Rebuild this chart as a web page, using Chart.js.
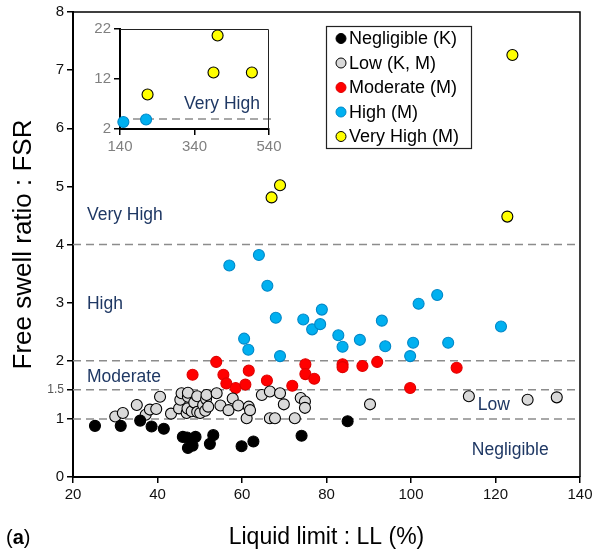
<!DOCTYPE html>
<html lang="en">
<head>
<meta charset="UTF-8">
<title>Free swell ratio vs Liquid limit</title>
<script src="https://cdn.jsdelivr.net/npm/chart.js"></script>
<style>
  body { margin: 0; background: white; }
  #wrap { position: relative; width: 600px; height: 554px; }
  #inset-chart { position: absolute; left: 60px; top: 10px; }
</style>
</head>
<body>
<div id="wrap">
  <canvas id="main-chart" width="600" height="554"></canvas>
  <canvas id="inset-chart" width="230" height="160"></canvas>
</div>
<script>
// main plot data (LL %, FSR)
const negligibleLL  = [25.2, 31.3, 35.9, 38.6, 41.5, 46.0, 47.0, 49.0, 47.2, 48.3, 52.4, 53.2, 59.9, 62.7, 74.1, 85.0];
const negligibleFSR = [0.88, 0.88, 0.97, 0.87, 0.83, 0.69, 0.68, 0.69, 0.50, 0.54, 0.57, 0.72, 0.53, 0.61, 0.71, 0.96];

const lowLL  = [30.0, 31.8, 35.1, 37.2, 38.2, 39.7, 40.6, 43.2, 45.1, 45.4, 45.7, 46.9, 47.1, 47.2, 47.2, 48.1,
                48.7, 49.4, 49.4, 50.1, 50.8, 51.3, 51.5, 51.6, 52.0, 54.0, 54.9, 56.8, 57.8, 59.1, 61.1, 61.6,
                61.9, 64.7, 66.6, 66.6, 67.8, 69.0, 69.9, 72.5, 73.9, 74.9, 74.9, 90.3, 113.7, 127.6, 134.5];
const lowFSR = [1.04, 1.10, 1.24, 1.07, 1.16, 1.17, 1.38, 1.09, 1.18, 1.33, 1.44, 1.10, 1.18, 1.38, 1.45, 1.13,
                1.28, 1.12, 1.39, 1.10, 1.24, 1.14, 1.34, 1.41, 1.21, 1.44, 1.23, 1.15, 1.35, 1.23, 1.01, 1.21,
                1.15, 1.41, 1.47, 1.01, 1.01, 1.44, 1.25, 1.01, 1.36, 1.30, 1.19, 1.25, 1.39, 1.33, 1.37];

const moderateLL  = [48.3, 53.9, 55.6, 56.3, 58.5, 60.8, 61.6, 65.9, 71.9, 75.0, 75.0, 77.1, 83.8, 83.8, 88.5, 92.0, 99.8, 110.8];
const moderateFSR = [1.76, 1.98, 1.76, 1.61, 1.53, 1.59, 1.83, 1.66, 1.57, 1.94, 1.77, 1.69, 1.94, 1.89, 1.91, 1.98, 1.53, 1.88];

const highLL  = [57.0, 64.0, 66.0, 68.0, 74.5, 78.9, 76.6, 78.5, 60.5, 61.5, 69.0, 82.8, 83.8, 87.9, 93.1, 93.9, 101.8, 106.2, 100.5, 99.8, 108.8, 121.3];
const highFSR = [3.64, 3.82, 3.29, 2.74, 2.71, 2.88, 2.54, 2.63, 2.38, 2.19, 2.08, 2.44, 2.24, 2.36, 2.69, 2.25, 2.98, 3.13, 2.31, 2.08, 2.31, 2.59];

const veryHighLL  = [124.0, 69.0, 67.0, 122.8];
const veryHighFSR = [7.26, 5.02, 4.81, 4.48];

// class boundaries and zone names
const boundaryFSR = [1, 1.5, 2, 4];
const yTickValues = [0, 1, 1.5, 2, 3, 4, 5, 6, 7, 8];
const zoneNames = ['Very High', 'High', 'Moderate', 'Low', 'Negligible'];
const zoneLL    = [23.3, 23.3, 23.3, 115.8, 114.4];
const zoneFSR   = [4.51, 2.98, 1.72, 1.24, 0.46];

// inset data (LL > 140)
const insetHighLL  = [149, 210];
const insetHighFSR = [3.4, 3.9];
const insetVeryHighLL  = [214, 391, 402, 494];
const insetVeryHighFSR = [8.9, 13.3, 20.7, 13.3];
const insetBoundaryFSR = 4;

const FONT = "'Liberation Sans', Arial, sans-serif";
const zoneColor = '#1F3864';

function pts(xs, ys) {
    return xs.map((x, i) => ({ x: x, y: ys[i] }));
}

const seriesStyle = [
    { label: 'Negligible (K)',  bg: '#000000', border: '#000000' },
    { label: 'Low (K, M)',      bg: '#D9D9D9', border: '#000000' },
    { label: 'Moderate (M)',    bg: '#FF0000', border: '#E00000' },
    { label: 'High (M)',        bg: '#00B0F0', border: '#0088C8' },
    { label: 'Very High (M)',   bg: '#FFFF00', border: '#000000' }
];
const seriesData = [
    pts(negligibleLL, negligibleFSR),
    pts(lowLL, lowFSR),
    pts(moderateLL, moderateFSR),
    pts(highLL, highFSR),
    pts(veryHighLL, veryHighFSR)
];

const pointSets = seriesStyle.map((s, i) => ({
    label: s.label,
    data: seriesData[i],
    backgroundColor: s.bg,
    borderColor: s.border,
    borderWidth: 1.1,
    pointRadius: 5.5,
    inLegend: true,
    order: 1
}));

const dashSets = boundaryFSR.map(v => ({
    label: 'b' + v,
    data: [{ x: 20, y: v }, { x: 140, y: v }],
    showLine: true,
    borderColor: '#8c8c8c',
    borderWidth: 1.5,
    borderDash: [8, 5],
    pointRadius: 0,
    order: 5
}));

const decorPlugin = {
    id: 'decor',
    afterDraw(chart) {
        const ctx = chart.ctx;
        const area = chart.chartArea;
        const xs = chart.scales.x, ys = chart.scales.y;
        ctx.save();
        // frame (top/right)
        ctx.strokeStyle = '#000';
        ctx.lineWidth = 1.5;
        ctx.beginPath();
        ctx.moveTo(area.left, area.top);
        ctx.lineTo(area.right, area.top);
        ctx.lineTo(area.right, area.bottom);
        ctx.stroke();

        // zone names
        ctx.fillStyle = zoneColor;
        ctx.font = '17.5px ' + FONT;
        ctx.textBaseline = 'middle';
        ctx.textAlign = 'left';
        zoneNames.forEach((n, i) => {
            ctx.fillText(n, xs.getPixelForValue(zoneLL[i]), ys.getPixelForValue(zoneFSR[i]));
        });

        // legend box
        const lx = 326, ly = 26, lw = 145, lh = 122, step = 24.5;
        ctx.fillStyle = '#fff';
        ctx.fillRect(lx, ly, lw, lh);
        ctx.strokeStyle = '#222';
        ctx.lineWidth = 1.2;
        ctx.strokeRect(lx + 0.5, ly + 0.5, lw, lh);
        ctx.font = '18px ' + FONT;
        chart.data.datasets.filter(d => d.inLegend).forEach((d, i) => {
            const cy = ly + 12.5 + i * step;
            ctx.beginPath();
            ctx.arc(lx + 15, cy, 5, 0, Math.PI * 2);
            ctx.fillStyle = d.backgroundColor;
            ctx.fill();
            ctx.strokeStyle = d.borderColor;
            ctx.lineWidth = 1;
            ctx.stroke();
            ctx.fillStyle = '#000';
            ctx.fillText(d.label, lx + 23, cy + 1);
        });

        // panel tag
        ctx.fillStyle = '#000';
        ctx.font = '20px ' + FONT;
        let px = 6;
        const py = 538;
        ctx.fillText('(', px, py);
        px += ctx.measureText('(').width;
        ctx.font = 'bold 20px ' + FONT;
        ctx.fillText('a', px, py);
        px += ctx.measureText('a').width;
        ctx.font = '20px ' + FONT;
        ctx.fillText(')', px, py);
        ctx.restore();
    }
};

new Chart(document.getElementById('main-chart'), {
    type: 'scatter',
    data: { datasets: pointSets.concat(dashSets) },
    options: {
        responsive: false,
        animation: false,
        layout: { padding: { left: 8, right: 20, top: 12, bottom: 0 } },
        plugins: { legend: { display: false }, tooltip: { enabled: false } },
        scales: {
            x: {
                type: 'linear',
                min: 20, max: 140,
                afterFit: s => { s.height = 77; },
                ticks: { stepSize: 20, color: '#111', font: { family: FONT, size: 15 } },
                grid: { drawOnChartArea: false, tickLength: 6, color: '#000', lineWidth: 1.5 },
                border: { color: '#000', width: 2 },
                title: {
                    display: true, text: 'Liquid limit : LL (%)', color: '#000',
                    font: { family: FONT, size: 23 }, padding: { top: 0, bottom: 3 }
                }
            },
            y: {
                type: 'linear',
                min: 0, max: 8,
                afterFit: s => { s.width = 65; },
                afterBuildTicks: s => { s.ticks = yTickValues.map(v => ({ value: v })); },
                ticks: {
                    autoSkip: false,
                    callback: v => String(v),
                    color: c => c.tick && c.tick.value === 1.5 ? '#555' : '#111',
                    font: c => ({ family: FONT, size: c.tick && c.tick.value === 1.5 ? 12 : 15 })
                },
                grid: { drawOnChartArea: false, tickLength: 6, color: '#000', lineWidth: 1.5 },
                border: { color: '#000', width: 2 },
                title: {
                    display: true, text: 'Free swell ratio : FSR', color: '#000',
                    font: { family: FONT, size: 26 }, padding: { top: 0, bottom: 0 }
                }
            }
        }
    },
    plugins: [decorPlugin]
});

// inset chart
const insetDecor = {
    id: 'insetDecor',
    afterDraw(chart) {
        const ctx = chart.ctx;
        const area = chart.chartArea;
        ctx.save();
        ctx.strokeStyle = '#222';
        ctx.lineWidth = 1;
        ctx.beginPath();
        ctx.moveTo(area.left, area.top + 0.5);
        ctx.lineTo(area.right - 0.5, area.top + 0.5);
        ctx.lineTo(area.right - 0.5, area.bottom);
        ctx.stroke();
        ctx.fillStyle = zoneColor;
        ctx.font = '17.5px ' + FONT;
        ctx.textBaseline = 'middle';
        ctx.fillText('Very High', chart.scales.x.getPixelForValue(312), chart.scales.y.getPixelForValue(7));
        ctx.restore();
    }
};

new Chart(document.getElementById('inset-chart'), {
    type: 'scatter',
    data: {
        datasets: [
            {
                data: pts(insetHighLL, insetHighFSR),
                backgroundColor: '#00B0F0', borderColor: '#0088C8', borderWidth: 1.1,
                pointRadius: 5.5, clip: false, order: 1
            },
            {
                data: pts(insetVeryHighLL, insetVeryHighFSR),
                backgroundColor: '#FFFF00', borderColor: '#000', borderWidth: 1.1,
                pointRadius: 5.5, clip: false, order: 1
            },
            {
                data: [{ x: 140, y: insetBoundaryFSR }, { x: 550, y: insetBoundaryFSR }],
                showLine: true, borderColor: '#8c8c8c', borderWidth: 1.5, borderDash: [8, 5],
                pointRadius: 0, clip: false, order: 5
            }
        ]
    },
    options: {
        responsive: false,
        animation: false,
        layout: { padding: { left: 0, right: 21, top: 19, bottom: 0 } },
        plugins: { legend: { display: false }, tooltip: { enabled: false } },
        scales: {
            x: {
                type: 'linear', min: 140, max: 540,
                afterFit: s => { s.height = 41; },
                ticks: { stepSize: 200, color: '#808080', font: { family: FONT, size: 15 } },
                grid: { drawOnChartArea: false, tickLength: 6, color: '#000', lineWidth: 1.5 },
                border: { color: '#000', width: 2 }
            },
            y: {
                type: 'linear', min: 2, max: 22,
                afterFit: s => { s.width = 60; },
                ticks: { stepSize: 10, color: '#808080', font: { family: FONT, size: 15 } },
                grid: { drawOnChartArea: false, tickLength: 6, color: '#000', lineWidth: 1.5 },
                border: { color: '#000', width: 2 }
            }
        }
    },
    plugins: [insetDecor]
});
</script>
</body>
</html>
